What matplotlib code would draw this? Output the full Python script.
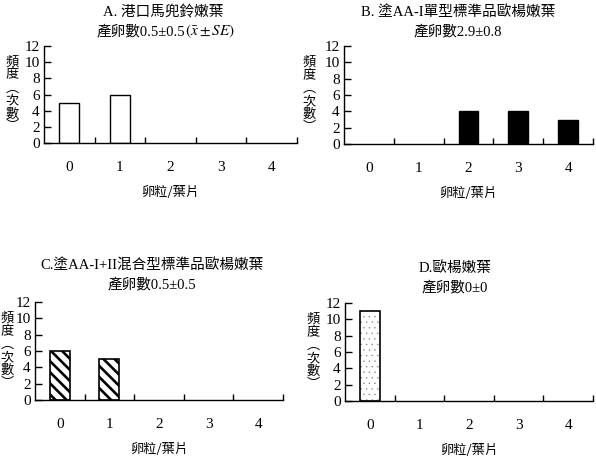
import matplotlib
matplotlib.use("Agg")
import matplotlib.pyplot as plt
import numpy as np

plt.rcParams['font.family'] = ['Liberation Serif', 'Noto Sans CJK TC']
plt.rcParams['mathtext.fontset'] = 'stix'

categories = [0, 1, 2, 3, 4]
vals_a = [5, 6, 0, 0, 0]
vals_b = [0, 0, 4, 4, 3]
vals_c = [6, 5, 0, 0, 0]
vals_d = [11, 0, 0, 0, 0]

titles = [
    ("A. 港口馬兜鈴嫩葉", "產卵數0.5±0.5"),
    ("B. 塗AA-I單型標準品歐楊嫩葉", "產卵數2.9±0.8"),
    ("C.塗AA-I+II混合型標準品歐楊嫩葉", "產卵數0.5±0.5"),
    ("D.歐楊嫩葉", "產卵數0±0"),
]
title_a_math = r"$(\bar{x}\pm SE)$"
xlabel = "卵粒/葉片"
ylabel_chars = ["頻", "度", "︵", "次", "數", "︶"]
yticks = [0, 2, 4, 6, 8, 10, 12]

W, H = 596, 457
fig = plt.figure(figsize=(W / 100, H / 100), dpi=100)

# (left px, top px, right px, bottom px)
boxes = [
    (44, 46, 297, 143),
    (344, 46, 593, 144),
    (35, 302, 283, 400),
    (345, 303, 593, 401),
]
title_centers = [163, 458, 152, 455]
title_y = [(12, 31), (12, 31), (265, 284), (268, 287)]
ylabel_x = [12, 309, 7, 313]

styles = [
    dict(color='white', hatch=None, hlw=1.0, hcol='black'),
    dict(color='black', hatch=None, hlw=1.0, hcol='black'),
    dict(color='white', hatch='\\\\\\', hlw=1.9, hcol='black'),
    dict(color='white', hatch='...', hlw=0.2, hcol='#777777'),
]
all_vals = [vals_a, vals_b, vals_c, vals_d]


def hide_zero(container, vals):
    for patch, v in zip(container.patches, vals):
        if v == 0:
            patch.set_visible(False)


for i in range(4):
    l, t, r, b = boxes[i]
    ax = fig.add_axes([l / W, (H - b) / H, (r - l) / W, (b - t) / H])
    st = styles[i]
    vals = all_vals[i]
    plt.rcParams['hatch.linewidth'] = st['hlw']
    if st['hatch'] is not None:
        c1 = ax.bar(categories, vals, width=0.4, color=st['color'],
                    edgecolor=st['hcol'], hatch=st['hatch'], linewidth=0)
        c2 = ax.bar(categories, vals, width=0.4, fill=False,
                    edgecolor='black', linewidth=1.2)
        hide_zero(c1, vals)
        hide_zero(c2, vals)
    else:
        c1 = ax.bar(categories, vals, width=0.4, color=st['color'],
                    edgecolor='black', linewidth=1.0)
        hide_zero(c1, vals)
    ax.set_xlim(-0.5, 4.5)
    ax.set_ylim(0, 12)
    for s in ['top', 'right']:
        ax.spines[s].set_visible(False)
    ax.spines['left'].set_linewidth(1.0)
    ax.spines['bottom'].set_linewidth(1.0)
    ax.set_yticks(yticks)
    ax.set_yticklabels([str(v) for v in yticks], fontsize=11)
    ax.tick_params(axis='y', direction='in', length=5, width=1, pad=3)
    ax.set_xticks(categories)
    ax.set_xticklabels([str(c) for c in categories], fontsize=11)
    ax.tick_params(axis='x', which='major', length=0, pad=13)
    ax.set_xticks([0.5, 1.5, 2.5, 3.5, 4.5], minor=True)
    ax.tick_params(axis='x', which='minor', direction='in', length=4, width=1)

    # x label
    ax.text(0.5, -(49) / (b - t), xlabel, transform=ax.transAxes,
            ha='center', va='center', fontsize=9.5,
            family=['Noto Sans CJK TC'])
    # y label (vertical characters)
    ycen = (t + b) / 2
    n = len(ylabel_chars)
    step = 13
    for k, ch in enumerate(ylabel_chars):
        yy = ycen + (k - (n - 1) / 2) * step
        fig.text(ylabel_x[i] / W, (H - yy) / H, ch, ha='center', va='center',
                 fontsize=9.5, family=['Noto Sans CJK TC'])
    # titles
    t1, t2 = titles[i]
    fig.text(title_centers[i] / W, (H - title_y[i][0]) / H, t1,
             ha='center', va='center', fontsize=10.5)
    if i == 0:
        fig.text(185 / W, (H - title_y[i][1]) / H, t2,
                 ha='right', va='center', fontsize=10.5)
        fig.text(185 / W, (H - title_y[i][1]) / H, title_a_math,
                 ha='left', va='center', fontsize=11)
    else:
        fig.text(title_centers[i] / W, (H - title_y[i][1]) / H, t2,
                 ha='center', va='center', fontsize=10.5)

fig.savefig("out.png", dpi=100)
